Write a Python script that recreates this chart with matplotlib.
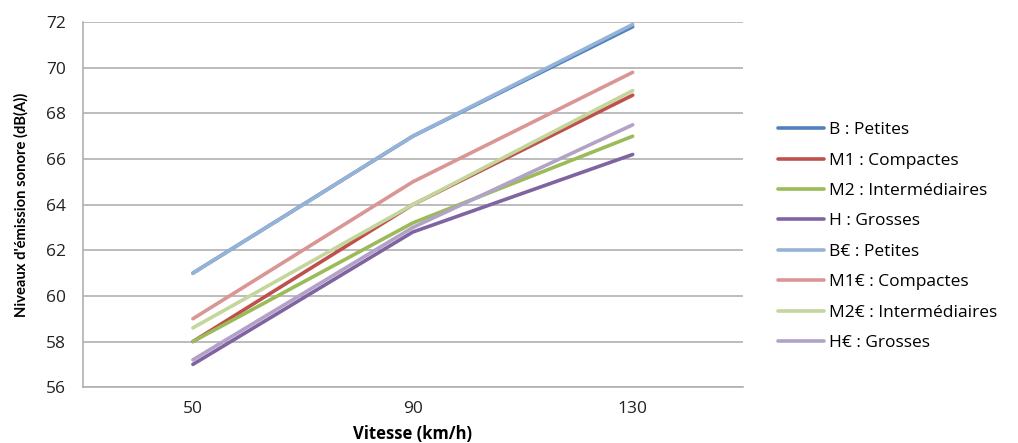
import matplotlib.pyplot as plt

# Données
vitesses = ['50', '90', '130']
series = ['B : Petites', 'M1 : Compactes', 'M2 : Intermédiaires', 'H : Grosses',
          'B€ : Petites', 'M1€ : Compactes', 'M2€ : Intermédiaires', 'H€ : Grosses']
b = [61.0, 67.0, 71.8]
m1 = [58.0, 64.0, 68.8]
m2 = [58.0, 63.2, 67.0]
h = [57.0, 62.8, 66.2]
b_eur = [61.0, 67.0, 71.9]
m1_eur = [59.0, 65.0, 69.8]
m2_eur = [58.6, 64.0, 69.0]
h_eur = [57.2, 63.0, 67.5]
valeurs = [b, m1, m2, h, b_eur, m1_eur, m2_eur, h_eur]
couleurs = ['#4F81BD', '#C0504D', '#9BBB59', '#8064A2',
            '#95B3D7', '#D99694', '#C3D69B', '#B3A2C7']

plt.rcParams['font.family'] = ['Open Sans', 'DejaVu Sans']

fig = plt.figure(figsize=(10.18, 4.43), dpi=100)
ax = fig.add_axes([0.0815, 0.126, 0.648, 0.824])

x = range(len(vitesses))
# ordre Excel : les séries claires sont tracées en dernier (au-dessus)
for i in range(len(series)):
    ax.plot(x, valeurs[i], color=couleurs[i], lw=2.6, label=series[i],
            solid_capstyle='round')

ax.set_xlim(-0.5, 2.5)
ax.set_ylim(56, 72)
ax.set_yticks(range(56, 73, 2))
ax.set_xticks(list(x))
ax.set_xticklabels(vitesses)
ax.tick_params(length=0, labelsize=12.5, colors='#222222', pad=10)
ax.tick_params(axis='y', pad=12)
ax.grid(axis='y', color='#B0B0B0', lw=1.2)
ax.set_axisbelow(True)
for s in ['top', 'right']:
    ax.spines[s].set_visible(False)
for s in ['left', 'bottom']:
    ax.spines[s].set_color('#B0B0B0')
    ax.spines[s].set_linewidth(1.2)

ax.set_xlabel('Vitesse (km/h)', fontsize=12, fontweight='bold', labelpad=6)
ax.set_ylabel("Niveaux d'émission sonore (dB(A))", fontsize=10.6, fontweight='bold',
              family=['Lato', 'DejaVu Sans'], labelpad=13)

fig.legend(loc='upper left', bbox_to_anchor=(0.757, 0.74),
           frameon=False, fontsize=12.5, handlelength=2.7, handletextpad=0.25,
           labelspacing=0.82, borderaxespad=0)

fig.savefig('out.png', dpi=100)
